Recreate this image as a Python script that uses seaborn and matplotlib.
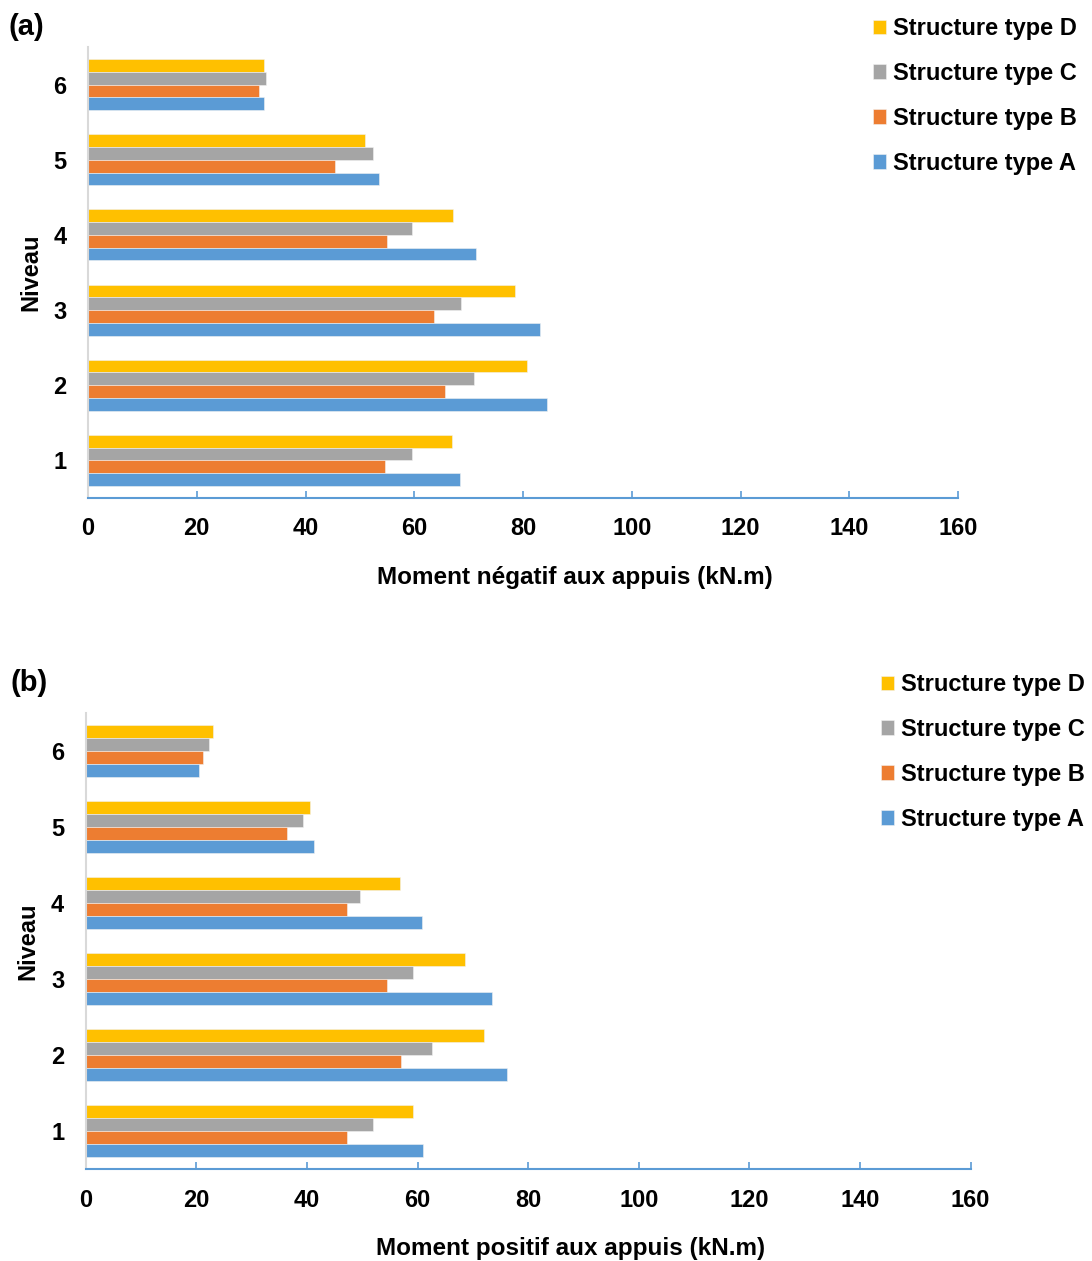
import matplotlib
matplotlib.use("Agg")
import matplotlib.pyplot as plt
import pandas as pd
import seaborn as sns

# Floor levels (top of the chart first)
levels = ["6", "5", "4", "3", "2", "1"]
structures = ["Structure type D", "Structure type C", "Structure type B", "Structure type A"]

# Negative moment at supports (kN.m), per level 6..1
neg_a = [32.4, 53.6, 71.4, 83.1, 84.5, 68.4]
neg_b = [31.4, 45.4, 55.0, 63.6, 65.7, 54.6]
neg_c = [32.7, 52.4, 59.6, 68.6, 70.9, 59.5]
neg_d = [32.3, 50.9, 67.2, 78.5, 80.7, 66.9]

# Positive moment at supports (kN.m), per level 6..1
pos_a = [20.4, 41.3, 60.9, 73.5, 76.1, 61.0]
pos_b = [21.2, 36.4, 47.2, 54.4, 57.1, 47.2]
pos_c = [22.3, 39.3, 49.6, 59.1, 62.6, 52.0]
pos_d = [23.1, 40.6, 56.9, 68.6, 72.0, 59.2]

x_ticks = [0, 20, 40, 60, 80, 100, 120, 140, 160]

palette = {
    "Structure type A": "#5B9BD5",
    "Structure type B": "#ED7D31",
    "Structure type C": "#A5A5A5",
    "Structure type D": "#FFC000",
}


def to_long(a, b, c, d):
    rows = []
    for name, vals in zip(
        ["Structure type A", "Structure type B", "Structure type C", "Structure type D"],
        [a, b, c, d],
    ):
        for lvl, v in zip(levels, vals):
            rows.append({"Niveau": lvl, "Structure": name, "Moment": v})
    return pd.DataFrame(rows)


sns.set_theme(style="white")
plt.rcParams["font.family"] = ["Liberation Sans", "DejaVu Sans"]
plt.rcParams["font.weight"] = "bold"
plt.rcParams["text.color"] = "black"
plt.rcParams["axes.labelcolor"] = "black"
plt.rcParams["xtick.color"] = "black"
plt.rcParams["ytick.color"] = "black"

fig = plt.figure(figsize=(10.92, 12.61), dpi=100)

W, H = 1092, 1261


def px_axes(left, top, right, bottom):
    return fig.add_axes([left / W, 1 - bottom / H, (right - left) / W, (bottom - top) / H])


def draw(ax, df, xlabel, xlabel_xy, panel, panel_xy, legend_xy):
    sns.barplot(
        data=df, y="Niveau", x="Moment", hue="Structure",
        order=levels, hue_order=structures, palette=palette, saturation=1,
        orient="h", width=0.68, gap=0, edgecolor="#F2F2F2", linewidth=0.4,
        errorbar=None, ax=ax, legend=True,
    )
    ax.set_xlim(0, 160)
    ax.set_ylim(5.5, -0.5)
    ax.set_xticks(x_ticks)
    ax.set_xticklabels([str(t) for t in x_ticks], fontsize=17, fontweight="bold")
    ax.set_yticks(range(len(levels)))
    ax.set_yticklabels(levels, fontsize=17, fontweight="bold")
    ax.tick_params(axis="x", bottom=True, direction="in", length=5, width=1.2,
                   color="#5B9BD5", labelcolor="black", pad=14)
    ax.tick_params(axis="y", left=False, length=0, pad=15.5, labelcolor="black")
    for s in ["top", "right"]:
        ax.spines[s].set_visible(False)
    ax.spines["bottom"].set_color("#5B9BD5")
    ax.spines["bottom"].set_linewidth(1.5)
    ax.spines["left"].set_color("#D9D9D9")
    ax.spines["left"].set_linewidth(1.5)
    ax.set_xlabel(xlabel, fontsize=17.5, fontweight="bold")
    ax.xaxis.set_label_coords(*xlabel_xy)
    ax.set_ylabel("Niveau", fontsize=17, fontweight="bold", labelpad=8)

    handles, labels = ax.get_legend_handles_labels()
    ax.get_legend().remove()
    fig.legend(
        handles, labels, loc="upper left",
        bbox_to_anchor=(legend_xy[0] / W, 1 - legend_xy[1] / H),
        frameon=False, prop={"size": 17, "weight": "bold"},
        handlelength=0.55, handleheight=0.55, handletextpad=0.3,
        labelspacing=0.93, borderaxespad=0, borderpad=0,
    )
    fig.text(panel_xy[0] / W, 1 - panel_xy[1] / H, panel,
             fontsize=21, fontweight="bold", va="center", ha="left")


ax1 = px_axes(88, 47, 958, 498)
draw(ax1, to_long(neg_a, neg_b, neg_c, neg_d),
     "Moment négatif aux appuis (kN.m)", (0.56, -0.151), "(a)", (9, 27), (873, 17))

ax2 = px_axes(85.7, 713, 970.5, 1169.3)
draw(ax2, to_long(pos_a, pos_b, pos_c, pos_d),
     "Moment positif aux appuis (kN.m)", (0.548, -0.149), "(b)", (11, 683), (881, 673))

fig.savefig("out.png", dpi=100)
